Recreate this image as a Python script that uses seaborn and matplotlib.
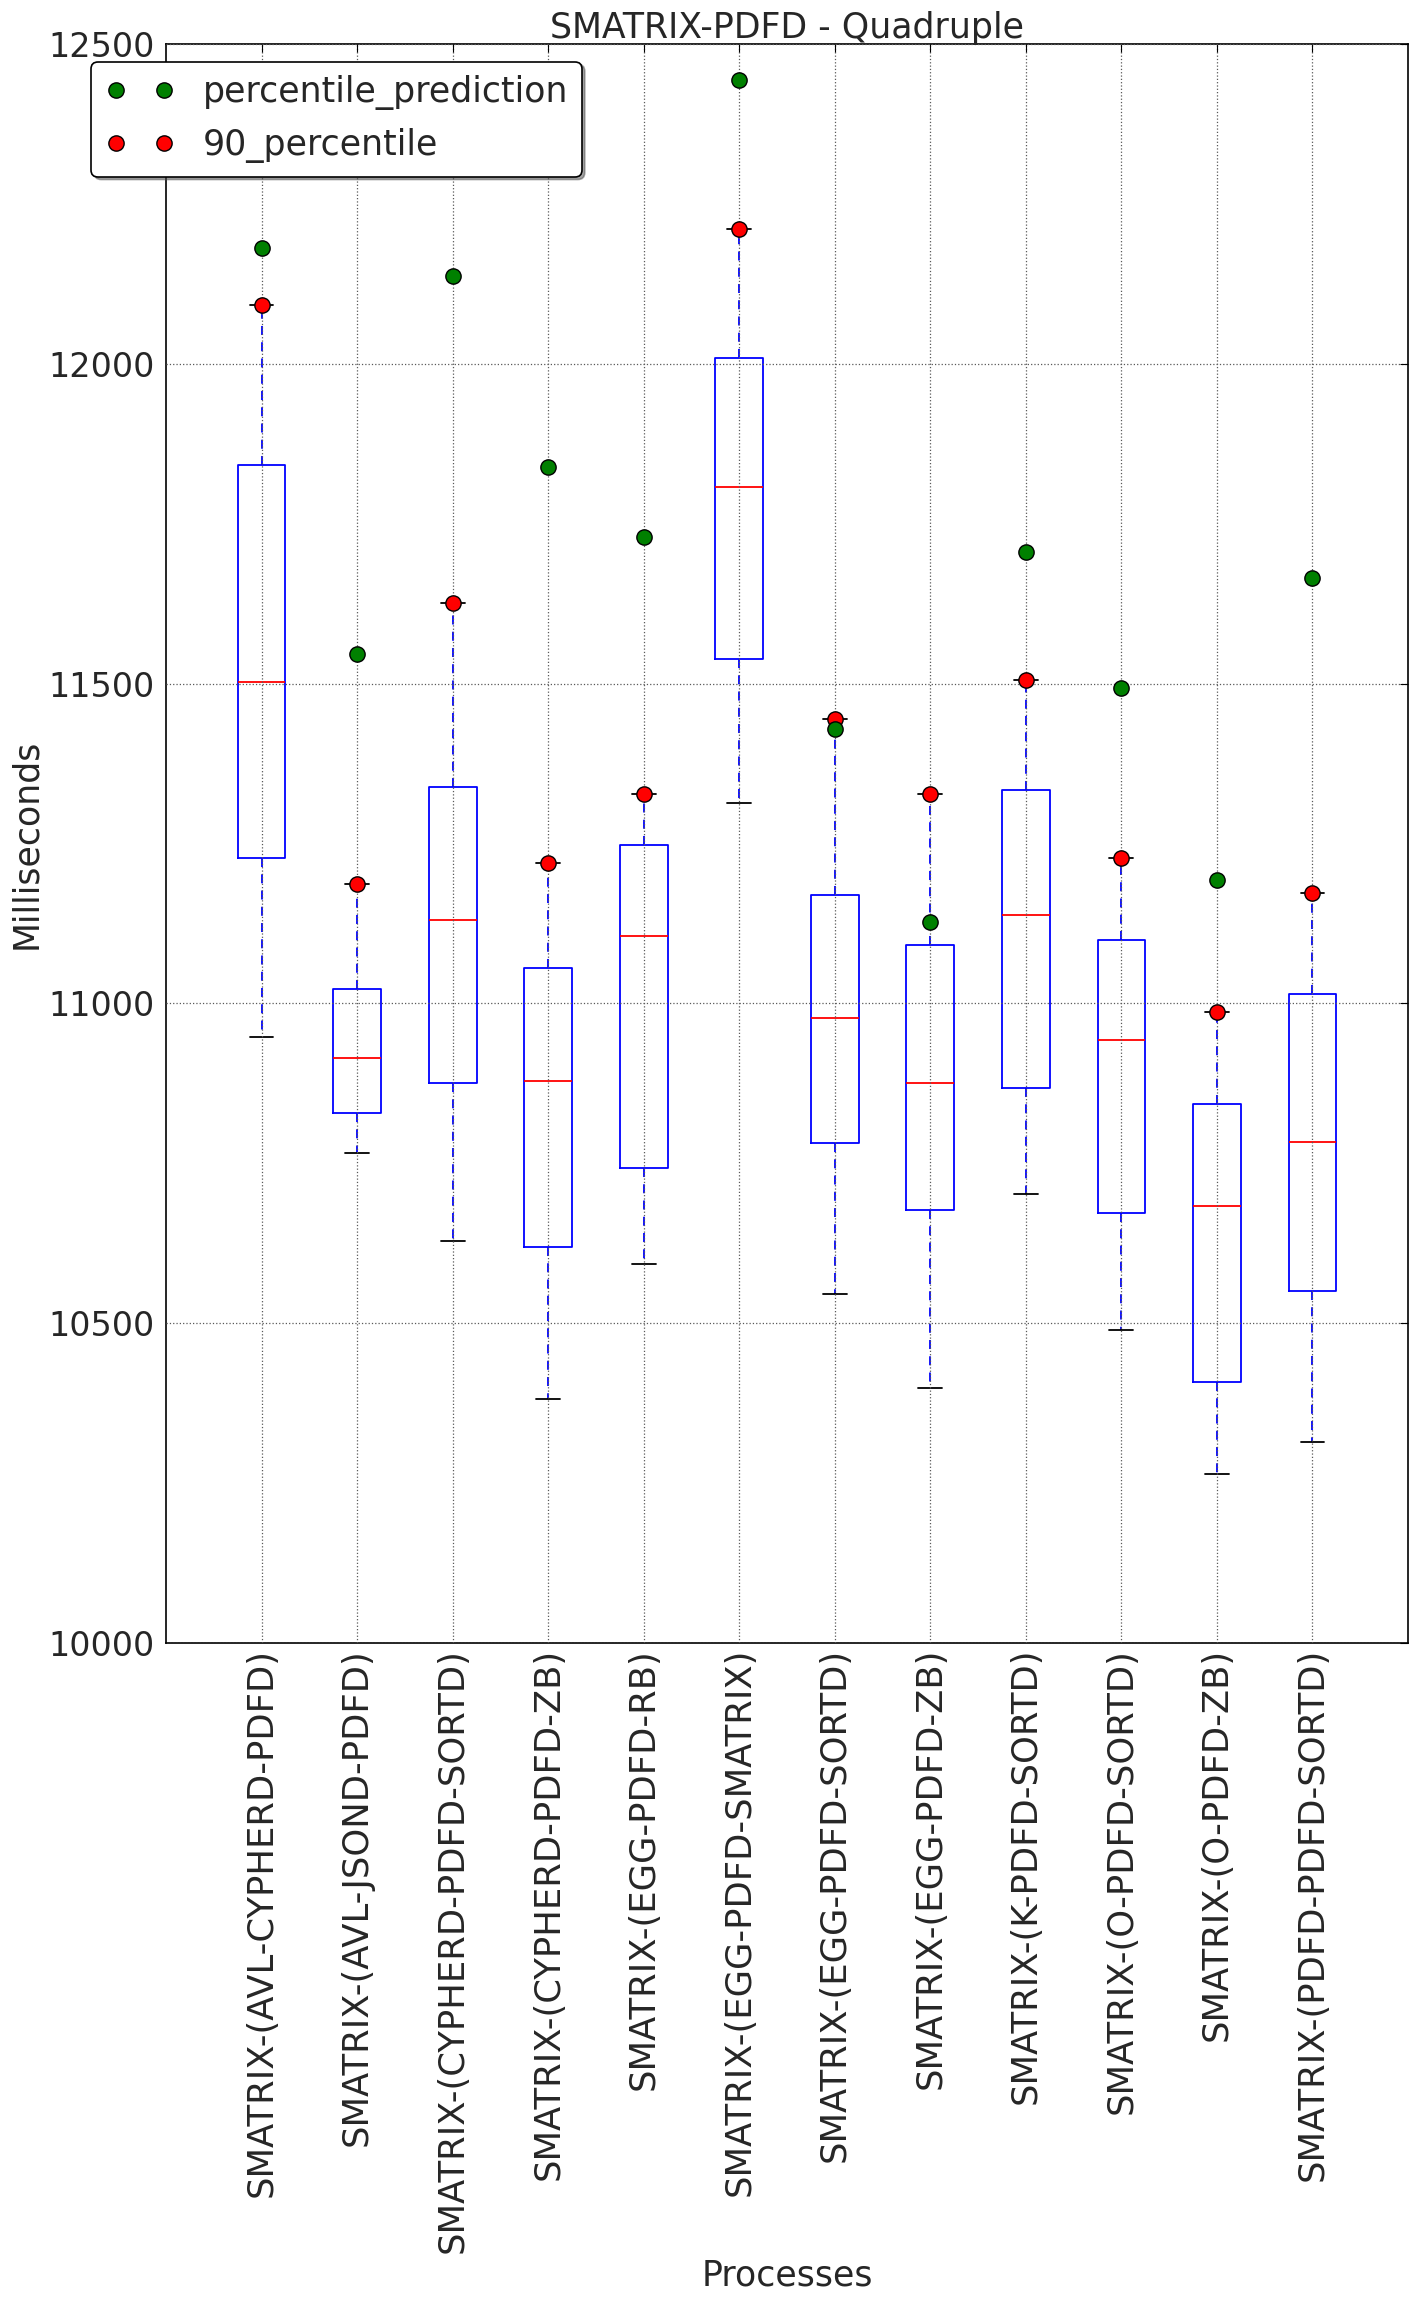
import numpy as np
import pandas as pd
import matplotlib
matplotlib.use("Agg")
import matplotlib.pyplot as plt
from matplotlib.lines import Line2D
import seaborn as sns

# =============================================================================
# DATA
# =============================================================================

categories = [
    "SMATRIX-(AVL-CYPHERD-PDFD)", "SMATRIX-(AVL-JSOND-PDFD)",
    "SMATRIX-(CYPHERD-PDFD-SORTD)", "SMATRIX-(CYPHERD-PDFD-ZB)",
    "SMATRIX-(EGG-PDFD-RB)", "SMATRIX-(EGG-PDFD-SMATRIX)",
    "SMATRIX-(EGG-PDFD-SORTD)", "SMATRIX-(EGG-PDFD-ZB)",
    "SMATRIX-(K-PDFD-SORTD)", "SMATRIX-(O-PDFD-SORTD)",
    "SMATRIX-(O-PDFD-ZB)", "SMATRIX-(PDFD-PDFD-SORTD)",
]
low = [10947, 10766, 10628, 10381, 10592, 11314, 10546, 10399, 10702, 10489, 10264, 10314]
q1 = [11227, 10828, 10876, 10619, 10743, 11539, 10782, 10677, 10867, 10672, 10408, 10550]
med = [11502, 10915, 11131, 10878, 11106, 11807, 10977, 10876, 11138, 10943, 10683, 10784]
q3 = [11842, 11023, 11339, 11055, 11248, 12009, 11170, 11092, 11333, 11099, 10842, 11014]
p90 = [12092, 11186, 11626, 11220, 11328, 12211, 11445, 11328, 11505, 11227, 10986, 11172]
pred = [12181, 11546, 12138, 11839, 11729, 12443, 11429, 11128, 11706, 11493, 11193, 11665]

# five-number rows per process -> boxplot with whiskers at min/max
rows = []
for i, c in enumerate(categories):
    for v in (low[i], q1[i], med[i], q3[i], p90[i]):
        rows.append((c, v))
df = pd.DataFrame(rows, columns=["process", "ms"])

# =============================================================================
# PLOT
# =============================================================================

sns.set_style("white")
plt.rcParams["font.family"] = ["DejaVu Sans"]

fig = plt.figure(figsize=(14.17, 23.0), dpi=100)
ax = fig.add_axes([166 / 1417, 1 - 1643 / 2300, 1242 / 1417, 1599 / 2300])

sns.boxplot(data=df, x="process", y="ms", order=categories, ax=ax,
            whis=(0, 100), width=0.5, fill=False, color="blue", linewidth=1.3,
            medianprops=dict(color="red", linewidth=1.3),
            whiskerprops=dict(color="blue", linestyle=(0, (5, 4)), linewidth=1.3),
            capprops=dict(color="black", linewidth=1.3),
            boxprops=dict(color="blue", linewidth=1.3))

sns.stripplot(x=categories, y=p90, order=categories, jitter=False, ax=ax,
              color="red", size=11, linewidth=1, edgecolor="black", zorder=3)
sns.stripplot(x=categories, y=pred, order=categories, jitter=False, ax=ax,
              color="green", size=11, linewidth=1, edgecolor="black", zorder=3)

ax.set_ylim(10000, 12500)
ax.set_yticks(np.arange(10000, 12501, 500))
ax.set_xlim(-1.0, len(categories))
ax.tick_params(axis="both", direction="in", top=True, right=True, length=6,
               labelsize=24, color="black")
ax.tick_params(axis="x", labelsize=25.5)
ax.tick_params(axis="y", pad=8)
plt.setp(ax.get_xticklabels(), rotation=90)

ax.set_axisbelow(False)
ax.grid(True, color="0.35", linestyle=":", linewidth=0.9)
for s in ax.spines.values():
    s.set_color("black")
    s.set_linewidth(1.2)

ax.set_title("SMATRIX-PDFD - Quadruple", fontsize=25, pad=4)
ax.set_ylabel("Milliseconds", fontsize=25)
ax.set_xlabel("Processes", fontsize=25)

handles = [
    Line2D([], [], marker="o", ls="", color="green", mec="black", ms=11),
    Line2D([], [], marker="o", ls="", color="red", mec="black", ms=11),
]
leg = ax.legend(handles, ["percentile_prediction", "90_percentile"],
                loc="upper left", bbox_to_anchor=(-0.06, 0.989),
                borderaxespad=0, numpoints=2, fancybox=True, shadow=True,
                fontsize=25, framealpha=1, edgecolor="black")
leg.get_frame().set_linewidth(1.2)

fig.savefig("out.png", dpi=100)
